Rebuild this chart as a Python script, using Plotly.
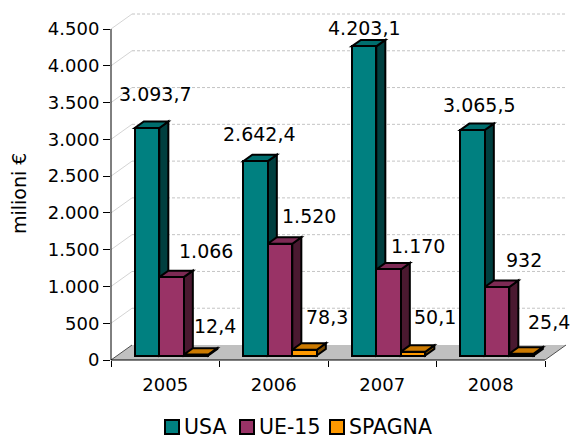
import plotly.graph_objects as go

# ---- data ----
YEARS = ["2005", "2006", "2007", "2008"]
USA = [3093.7, 2642.4, 4203.1, 3065.5]
UE15 = [1066, 1520, 1170, 932]
SPAGNA = [12.4, 78.3, 50.1, 25.4]
Y_TICKS = [0, 500, 1000, 1500, 2000, 2500, 3000, 3500, 4000, 4500]

# ---- geometry (pixels) ----
W, H = 575, 439
PL, PR, PT, PB = 111, 570, 5, 360          # plot area edges
KX = 108.5                                  # px per category
KY = 331 / 4500                             # px per unit of value
X_MIN = -0.5
X_MAX = X_MIN + (PR - PL) / KX
Y_MAX = (PB - PT) / KY

# depth of the 3D box (floor / back wall), converted to data units
DDX = 21 / KX
DDY = 15 / KY
T0 = 0.30          # depth where the bar fronts sit
TB = 0.43          # bar depth
BAR_W = 24.5 / KX  # single bar width

FONT = "DejaVu Sans"

series = [
    dict(name="USA", values=USA, dec=1, front="#008080", top="#006e6e", side="#003f3f",
         shift=[(8, 34), (4, 27), (0, 18), (7, 25)], legend_x=165),
    dict(name="UE-15", values=UE15, dec=0, front="#993366", top="#7d2a54", side="#4a1930",
         shift=[(34, 26), (29, 28), (29, 23), (27, 27)], legend_x=240),
    dict(name="SPAGNA", values=SPAGNA, dec=1, front="#ff9900", top="#cc7a00", side="#7a4a00",
         shift=[(19, 29), (22, 33), (22, 35), (27, 32)], legend_x=330),
]
LEGEND_Y = 427


def fmt_it(v, dec):
    s = f"{v:,.{dec}f}"
    return s.replace(",", "X").replace(".", ",").replace("X", ".")


def poly(pts):
    return "M " + " L ".join(f"{x},{y}" for x, y in pts) + " Z"


def px_x(p):
    return (p - PL) / (PR - PL)


def px_y(p):
    return (PB - p) / (PB - PT)


fig = go.Figure()
shapes = []
annotations = []

# back wall gridlines and the diagonals joining them to the value axis
for v in Y_TICKS[1:]:
    shapes.append(dict(type="line", xref="x", yref="y", layer="below",
                       x0=X_MIN, y0=v, x1=X_MIN + DDX, y1=v + DDY,
                       line=dict(color="#d4d4d4", width=1)))
    shapes.append(dict(type="line", xref="x", yref="y", layer="below",
                       x0=X_MIN + DDX, y0=v + DDY, x1=3.5 + DDX, y1=v + DDY,
                       line=dict(color="#c4c4c4", width=1, dash="3px,2px")))

# floor
shapes.append(dict(type="path", xref="x", yref="y", layer="below",
                   path=poly([(X_MIN, 0), (3.5, 0), (3.5 + DDX, DDY), (X_MIN + DDX, DDY)]),
                   fillcolor="#c0c0c0", line=dict(width=0)))
for xe in (X_MIN, 3.5):
    shapes.append(dict(type="line", xref="x", yref="y", layer="below",
                       x0=xe, y0=0, x1=xe + DDX, y1=DDY,
                       line=dict(color="#505050", width=1)))

base = T0 * DDY
bdx, bdy = TB * DDX, TB * DDY

for k, s in enumerate(series):
    xc = [i - 1.5 * BAR_W + (k + 0.5) * BAR_W + T0 * DDX for i in range(len(YEARS))]
    fig.add_trace(go.Bar(
        x=xc, y=s["values"], base=base, width=BAR_W, name=s["name"],
        marker=dict(color=s["front"], line=dict(color="black", width=2)),
        showlegend=False, hoverinfo="skip"))
    for i, v in enumerate(s["values"]):
        xl, xr = xc[i] - BAR_W / 2, xc[i] + BAR_W / 2
        top = base + v
        # right side face
        shapes.append(dict(type="path", xref="x", yref="y", layer="below",
                           path=poly([(xr, base), (xr + bdx, base + bdy),
                                      (xr + bdx, top + bdy), (xr, top)]),
                           fillcolor=s["side"], line=dict(color="black", width=2)))
        # top face
        shapes.append(dict(type="path", xref="x", yref="y", layer="below",
                           path=poly([(xl, top), (xr, top), (xr + bdx, top + bdy),
                                      (xl + bdx, top + bdy)]),
                           fillcolor=s["top"], line=dict(color="black", width=2)))
        dx, dy = s["shift"][i]
        annotations.append(dict(x=xc[i], y=top, xref="x", yref="y",
                                text=fmt_it(v, s["dec"]), showarrow=False,
                                xanchor="center", yanchor="middle",
                                xshift=dx, yshift=dy,
                                font=dict(family=FONT, size=19, color="black")))

    # legend entry: colour swatch + series name
    lx = s["legend_x"]
    shapes.append(dict(type="rect", xref="paper", yref="paper", layer="above",
                       x0=px_x(lx), x1=px_x(lx + 14),
                       y0=px_y(LEGEND_Y - 7), y1=px_y(LEGEND_Y + 7),
                       fillcolor=s["front"], line=dict(color="black", width=2)))
    annotations.append(dict(x=px_x(lx + 18), y=px_y(LEGEND_Y), xref="paper", yref="paper",
                            text=s["name"], showarrow=False, borderpad=0,
                            xanchor="left", yanchor="middle",
                            font=dict(family=FONT, size=20.5, color="black")))

# axis lines
shapes.append(dict(type="line", xref="paper", yref="y", layer="above",
                   x0=0, y0=0, x1=0, y1=Y_TICKS[-1], line=dict(color="black", width=1)))
shapes.append(dict(type="line", xref="x", yref="paper", layer="above",
                   x0=X_MIN, y0=0, x1=3.5, y1=0, line=dict(color="black", width=1)))

# value axis title
annotations.append(dict(x=px_x(19), y=px_y(194),
                        xref="paper", yref="paper", text="milioni €", textangle=-90,
                        showarrow=False, xanchor="center", yanchor="middle",
                        font=dict(family=FONT, size=19, color="black")))

fig.update_layout(
    width=W, height=H,
    margin=dict(l=PL, r=W - PR, t=PT, b=H - PB, pad=0, autoexpand=False),
    paper_bgcolor="white", plot_bgcolor="white",
    barmode="overlay", bargap=0,
    separators=",.",
    font=dict(family=FONT, size=18, color="black"),
    shapes=shapes, annotations=annotations,
    showlegend=False,
    xaxis=dict(range=[X_MIN, X_MAX], tickvals=list(range(len(YEARS))), ticktext=YEARS,
               ticks="", showgrid=False, zeroline=False, showline=False, automargin=False,
               ticklabelstandoff=12,
               tickfont=dict(family=FONT, size=18, color="black"),
               minor=dict(ticks="outside", ticklen=6, tickcolor="black", tickwidth=1,
                          tick0=-0.5, dtick=1, showgrid=False)),
    yaxis=dict(range=[0, Y_MAX], tickvals=Y_TICKS, tickformat=",d", automargin=False,
               ticks="outside", ticklen=7, tickcolor="black", tickwidth=1,
               showgrid=False, zeroline=False, showline=False,
               tickfont=dict(family=FONT, size=18, color="black")),
)

fig.write_html("out.html")
